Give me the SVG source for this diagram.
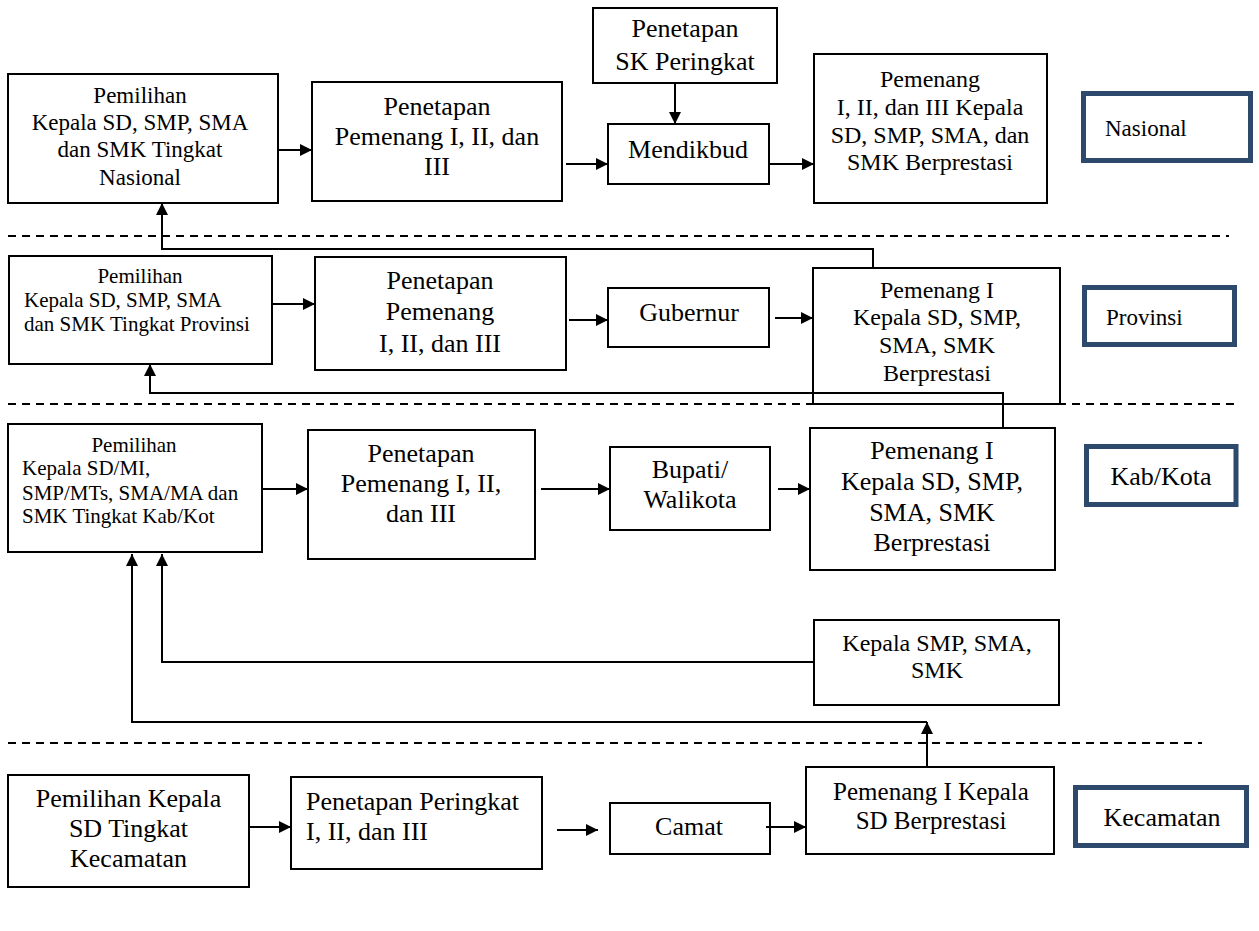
<svg xmlns="http://www.w3.org/2000/svg" width="1259" height="931" viewBox="0 0 1259 931">
<style>
.box{fill:#fff;stroke:#000;stroke-width:2}
.lbl{fill:#fff;stroke:#2D4A6C;stroke-width:5}
text{font-family:"Liberation Serif","Times New Roman",serif;fill:#000}
.c{text-anchor:middle}
.ln{fill:none;stroke:#000;stroke-width:2}
.dash{fill:none;stroke:#000;stroke-width:2;stroke-dasharray:8 6}
</style>
<defs>
<marker id="ah" markerUnits="userSpaceOnUse" markerWidth="12" markerHeight="12" refX="12" refY="6" orient="auto">
<path d="M0,0 L12,6 L0,12 z" fill="#000"/>
</marker>
</defs>
<rect width="1259" height="931" fill="#fff"/>
<g id="separators">
<line class="dash" x1="8" y1="236" x2="1229" y2="236"/>
<line class="dash" x1="8" y1="404" x2="1235" y2="404"/>
<line class="dash" x1="8" y1="743" x2="1202" y2="743"/>
</g>
<g id="nat-pemilihan">
<rect class="box" x="8" y="74" width="270" height="129"/>
<text class="c" font-family="Liberation Serif, serif" font-size="23"><tspan x="140" y="103">Pemilihan</tspan><tspan x="140" y="130">Kepala SD, SMP, SMA</tspan><tspan x="140" y="157">dan SMK Tingkat</tspan><tspan x="140" y="185">Nasional</tspan></text>
</g>
<g id="nat-penetapan">
<rect class="box" x="312" y="82" width="250" height="119"/>
<text class="c" font-family="Liberation Serif, serif" font-size="26"><tspan x="437" y="115">Penetapan</tspan><tspan x="437" y="145">Pemenang I, II, dan</tspan><tspan x="437" y="175">III</tspan></text>
</g>
<g id="nat-sk">
<rect class="box" x="593" y="8" width="184" height="75"/>
<text class="c" font-family="Liberation Serif, serif" font-size="26"><tspan x="685" y="37">Penetapan</tspan><tspan x="685" y="70">SK Peringkat</tspan></text>
</g>
<g id="nat-mendikbud">
<rect class="box" x="608" y="124" width="161" height="60"/>
<text class="c" font-family="Liberation Serif, serif" font-size="26" x="688" y="158">Mendikbud</text>
</g>
<g id="nat-pemenang">
<rect class="box" x="814" y="54" width="233" height="149"/>
<text class="c" font-family="Liberation Serif, serif" font-size="24"><tspan x="930" y="87">Pemenang</tspan><tspan x="930" y="115">I, II, dan III Kepala</tspan><tspan x="930" y="143">SD, SMP, SMA, dan</tspan><tspan x="930" y="170">SMK Berprestasi</tspan></text>
</g>
<g id="lbl-nasional">
<rect class="lbl" x="1083.5" y="93.5" width="167" height="67"/>
<text font-family="Liberation Serif, serif" font-size="23" x="1105" y="136">Nasional</text>
</g>
<g id="prov-pemilihan">
<rect class="box" x="9" y="256" width="263" height="108"/>
<text font-family="Liberation Serif, serif" font-size="21"><tspan class="c" x="140" y="283">Pemilihan</tspan><tspan x="24" y="307">Kepala SD, SMP, SMA</tspan><tspan x="24" y="331">dan SMK Tingkat Provinsi</tspan></text>
</g>
<g id="prov-penetapan">
<rect class="box" x="315" y="257" width="251" height="113"/>
<text class="c" font-family="Liberation Serif, serif" font-size="26"><tspan x="440" y="289">Penetapan</tspan><tspan x="440" y="320">Pemenang</tspan><tspan x="440" y="352">I, II, dan III</tspan></text>
</g>
<g id="prov-gubernur">
<rect class="box" x="608" y="288" width="161" height="59"/>
<text class="c" font-family="Liberation Serif, serif" font-size="26" x="689" y="321">Gubernur</text>
</g>
<g id="prov-pemenang">
<rect class="box" x="813" y="268" width="247" height="136"/>
<text class="c" font-family="Liberation Serif, serif" font-size="24"><tspan x="937" y="298">Pemenang I</tspan><tspan x="937" y="325">Kepala SD, SMP,</tspan><tspan x="937" y="353">SMA, SMK</tspan><tspan x="937" y="381">Berprestasi</tspan></text>
</g>
<g id="lbl-provinsi">
<rect class="lbl" x="1084.5" y="287.5" width="150" height="57"/>
<text font-family="Liberation Serif, serif" font-size="23" x="1106" y="325">Provinsi</text>
</g>
<g id="kab-pemilihan">
<rect class="box" x="8" y="424" width="254" height="128"/>
<text font-family="Liberation Serif, serif" font-size="21"><tspan class="c" x="134" y="452">Pemilihan</tspan><tspan x="22" y="475">Kepala SD/MI,</tspan><tspan x="22" y="500">SMP/MTs, SMA/MA dan</tspan><tspan x="22" y="523">SMK Tingkat Kab/Kot</tspan></text>
</g>
<g id="kab-penetapan">
<rect class="box" x="308" y="430" width="227" height="129"/>
<text class="c" font-family="Liberation Serif, serif" font-size="26"><tspan x="421" y="462">Penetapan</tspan><tspan x="421" y="492">Pemenang I, II,</tspan><tspan x="421" y="522">dan III</tspan></text>
</g>
<g id="kab-bupati">
<rect class="box" x="610" y="447" width="160" height="83"/>
<text class="c" font-family="Liberation Serif, serif" font-size="26"><tspan x="690" y="478">Bupati/</tspan><tspan x="690" y="508">Walikota</tspan></text>
</g>
<g id="kab-pemenang">
<rect class="box" x="810" y="428" width="245" height="142"/>
<text class="c" font-family="Liberation Serif, serif" font-size="26"><tspan x="932" y="459">Pemenang I</tspan><tspan x="932" y="490">Kepala SD, SMP,</tspan><tspan x="932" y="521">SMA, SMK</tspan><tspan x="932" y="551">Berprestasi</tspan></text>
</g>
<g id="lbl-kab">
<rect class="lbl" x="1086.5" y="446.5" width="149.5" height="58"/>
<text class="c" font-family="Liberation Serif, serif" font-size="26" x="1161" y="485">Kab/Kota</text>
</g>
<g id="kab-kepala-smp">
<rect class="box" x="814" y="620" width="245" height="85"/>
<text class="c" font-family="Liberation Serif, serif" font-size="24"><tspan x="937" y="651">Kepala SMP, SMA,</tspan><tspan x="937" y="678">SMK</tspan></text>
</g>
<g id="kec-pemilihan">
<rect class="box" x="8" y="775" width="241" height="112"/>
<text class="c" font-family="Liberation Serif, serif" font-size="26"><tspan x="128.5" y="807">Pemilihan Kepala</tspan><tspan x="128.5" y="837">SD Tingkat</tspan><tspan x="128.5" y="867">Kecamatan</tspan></text>
</g>
<g id="kec-penetapan">
<rect class="box" x="291" y="777" width="251" height="92"/>
<text font-family="Liberation Serif, serif" font-size="26"><tspan x="306" y="810">Penetapan Peringkat</tspan><tspan x="306" y="840">I, II, dan III</tspan></text>
</g>
<g id="kec-camat">
<rect class="box" x="610" y="803" width="160" height="51"/>
<text class="c" font-family="Liberation Serif, serif" font-size="26" x="689" y="835">Camat</text>
</g>
<g id="kec-pemenang">
<rect class="box" x="806" y="767" width="248" height="87"/>
<text class="c" font-family="Liberation Serif, serif" font-size="25"><tspan x="931" y="800">Pemenang I Kepala</tspan><tspan x="931" y="829">SD Berprestasi</tspan></text>
</g>
<g id="lbl-kecamatan">
<rect class="lbl" x="1075.5" y="787.5" width="171" height="58"/>
<text class="c" font-family="Liberation Serif, serif" font-size="26" x="1162" y="826">Kecamatan</text>
</g>
<g id="connectors">
<path class="ln" d="M278,150 H312" marker-end="url(#ah)"/>
<path class="ln" d="M566,164 H608" marker-end="url(#ah)"/>
<path class="ln" d="M675,83 V124" marker-end="url(#ah)"/>
<path class="ln" d="M769,164 H814" marker-end="url(#ah)"/>
<path class="ln" d="M873,268 V249 H162 V203" marker-end="url(#ah)"/>
<path class="ln" d="M272,304 H315" marker-end="url(#ah)"/>
<path class="ln" d="M569,320 H608" marker-end="url(#ah)"/>
<path class="ln" d="M775,318 H813" marker-end="url(#ah)"/>
<path class="ln" d="M1003,428 V393 H150 V364" marker-end="url(#ah)"/>
<path class="ln" d="M262,489 H308" marker-end="url(#ah)"/>
<path class="ln" d="M541,489 H610" marker-end="url(#ah)"/>
<path class="ln" d="M778,489 H810" marker-end="url(#ah)"/>
<path class="ln" d="M814,662 H162 V554" marker-end="url(#ah)"/>
<path class="ln" d="M927,767 V722" marker-end="url(#ah)"/>
<path class="ln" d="M927,722 H132 V554" marker-end="url(#ah)"/>
<path class="ln" d="M249,827 H291" marker-end="url(#ah)"/>
<path class="ln" d="M557,830 H598" marker-end="url(#ah)"/>
<path class="ln" d="M766,827 H806" marker-end="url(#ah)"/>
</g>
</svg>
